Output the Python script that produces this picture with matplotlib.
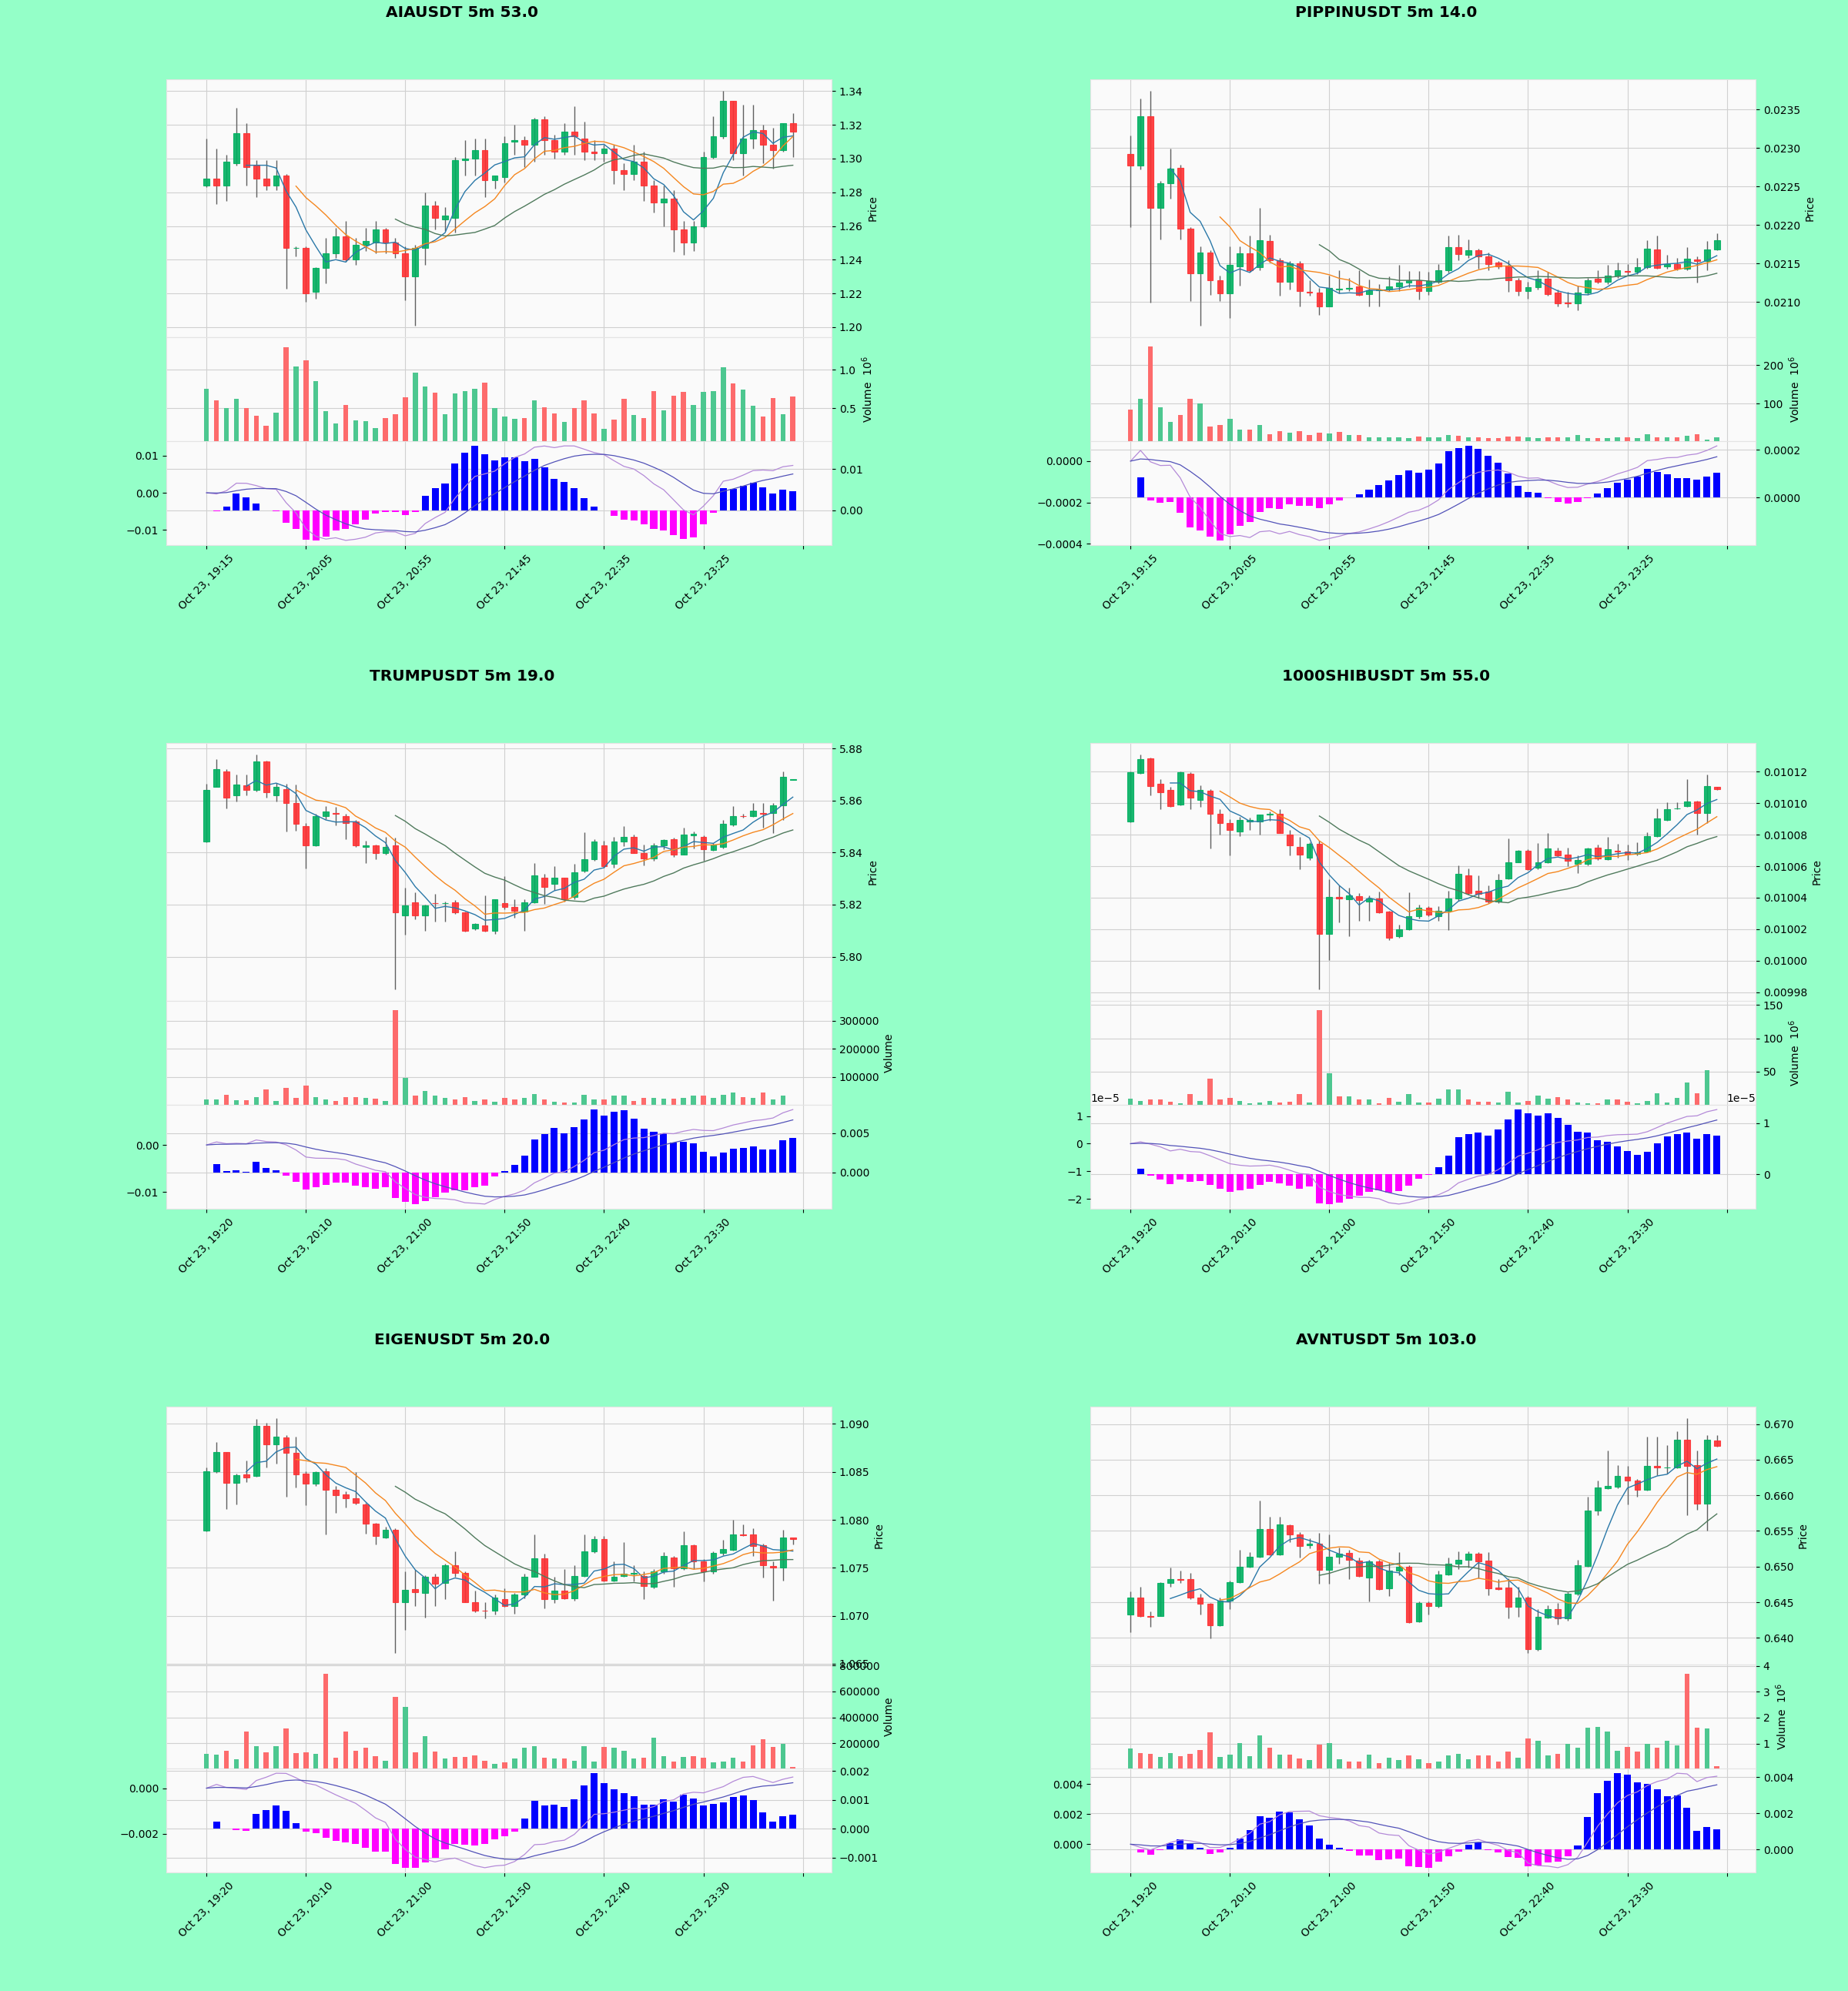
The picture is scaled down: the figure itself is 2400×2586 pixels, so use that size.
import matplotlib
matplotlib.use("Agg")
import matplotlib.pyplot as plt
from matplotlib.ticker import MaxNLocator
import numpy as np
import pandas as pd

# ---------------- data (5m candles, 60 per symbol) ----------------
aia_title = "AIAUSDT 5m 53.0"
aia_open = [1.284, 1.288, 1.284, 1.297, 1.315, 1.296, 1.288, 1.284, 1.290, 1.247,
            1.247, 1.221, 1.235, 1.244, 1.254, 1.240, 1.249, 1.250, 1.258, 1.250,
            1.244, 1.230, 1.247, 1.272, 1.264, 1.265, 1.299, 1.300, 1.305, 1.287,
            1.289, 1.310, 1.311, 1.308, 1.323, 1.311, 1.304, 1.316, 1.312, 1.304,
            1.303, 1.306, 1.293, 1.291, 1.298, 1.284, 1.274, 1.276, 1.258, 1.250,
            1.260, 1.301, 1.313, 1.334, 1.303, 1.312, 1.317, 1.308, 1.305, 1.321]
aia_high = [1.312, 1.306, 1.302, 1.330, 1.321, 1.299, 1.299, 1.299, 1.291, 1.248,
            1.248, 1.2355, 1.253, 1.259, 1.263, 1.253, 1.259, 1.263, 1.259, 1.253,
            1.248, 1.249, 1.280, 1.275, 1.271, 1.301, 1.311, 1.312, 1.312, 1.290,
            1.313, 1.320, 1.313, 1.324, 1.325, 1.314, 1.321, 1.331, 1.322, 1.311,
            1.308, 1.308, 1.297, 1.308, 1.304, 1.287, 1.284, 1.281, 1.263, 1.263,
            1.304, 1.325, 1.340, 1.334, 1.332, 1.332, 1.320, 1.318, 1.321, 1.327]
aia_low = [1.283, 1.273, 1.275, 1.296, 1.284, 1.277, 1.281, 1.281, 1.223, 1.242,
           1.215, 1.217, 1.226, 1.241, 1.239, 1.237, 1.245, 1.244, 1.244, 1.241,
           1.216, 1.201, 1.237, 1.258, 1.257, 1.256, 1.290, 1.290, 1.277, 1.282,
           1.286, 1.302, 1.295, 1.298, 1.302, 1.300, 1.302, 1.302, 1.299, 1.299,
           1.298, 1.285, 1.281, 1.287, 1.275, 1.268, 1.260, 1.2445, 1.243, 1.245,
           1.259, 1.300, 1.312, 1.299, 1.290, 1.306, 1.297, 1.294, 1.304, 1.301]
aia_close = [1.288, 1.284, 1.298, 1.315, 1.295, 1.288, 1.284, 1.290, 1.247, 1.2472,
             1.220, 1.235, 1.244, 1.254, 1.240, 1.249, 1.251, 1.258, 1.250, 1.244,
             1.230, 1.247, 1.272, 1.265, 1.266, 1.299, 1.300, 1.305, 1.287, 1.290,
             1.309, 1.311, 1.308, 1.323, 1.311, 1.304, 1.316, 1.313, 1.304, 1.303,
             1.306, 1.293, 1.291, 1.298, 1.284, 1.274, 1.276, 1.258, 1.250, 1.260,
             1.301, 1.313, 1.334, 1.303, 1.312, 1.317, 1.308, 1.305, 1.321, 1.316]
aia_volume = [757000, 607000, 507000, 623000, 507000, 397000, 273000, 440000, 1297000, 1040000,
              1123000, 850000, 457000, 297000, 547000, 340000, 330000, 240000, 367000, 423000,
              640000, 963000, 780000, 707000, 423000, 690000, 723000, 750000, 833000, 507000,
              390000, 357000, 373000, 607000, 517000, 433000, 323000, 507000, 607000, 430000,
              233000, 350000, 623000, 407000, 373000, 723000, 473000, 663000, 713000, 547000,
              713000, 723000, 1033000, 823000, 747000, 533000, 390000, 633000, 417000, 650000]

pippin_title = "PIPPINUSDT 5m 14.0"
pippin_open = [0.022927, 0.02277, 0.023417, 0.022227, 0.022543, 0.02274, 0.021953, 0.02137, 0.021643, 0.021283,
               0.02111, 0.02146, 0.021633, 0.021453, 0.021797, 0.021537, 0.02126, 0.021503, 0.02113, 0.02112,
               0.02094, 0.02116, 0.02117, 0.021203, 0.021103, 0.02115, 0.02116, 0.0212, 0.02125, 0.021283,
               0.021143, 0.02126, 0.02141, 0.021717, 0.021617, 0.021677, 0.021593, 0.02151, 0.02147, 0.021283,
               0.021143, 0.021193, 0.0213, 0.02112, 0.02099, 0.02098, 0.021117, 0.0213, 0.02126, 0.021337,
               0.0214, 0.02139, 0.02145, 0.021683, 0.02146, 0.02149, 0.02143, 0.02155, 0.02153, 0.021683]
pippin_high = [0.02316, 0.023643, 0.023743, 0.022577, 0.022993, 0.022783, 0.021977, 0.021727, 0.021677, 0.021343,
               0.021727, 0.021727, 0.02186, 0.022227, 0.021877, 0.021577, 0.021527, 0.021527, 0.021277, 0.021177,
               0.021343, 0.02141, 0.02131, 0.02141, 0.021293, 0.021227, 0.021327, 0.021477, 0.021403, 0.021403,
               0.021393, 0.021493, 0.02186, 0.021877, 0.02181, 0.021693, 0.021643, 0.021527, 0.021543, 0.02131,
               0.02126, 0.02141, 0.021393, 0.02116, 0.021127, 0.02121, 0.02131, 0.02141, 0.021477, 0.02151,
               0.021493, 0.021577, 0.021803, 0.02186, 0.02161, 0.021577, 0.02171, 0.021593, 0.021793, 0.021893]
pippin_low = [0.021977, 0.022727, 0.020993, 0.02181, 0.022343, 0.02181, 0.02101, 0.020693, 0.021093, 0.02101,
              0.020793, 0.02121, 0.021393, 0.02141, 0.02151, 0.021077, 0.02116, 0.020943, 0.021077, 0.020827,
              0.020937, 0.02111, 0.021143, 0.021077, 0.020937, 0.020937, 0.021143, 0.021143, 0.021193, 0.021027,
              0.021093, 0.021243, 0.021377, 0.021543, 0.021577, 0.021427, 0.02141, 0.021427, 0.021127, 0.021077,
              0.021043, 0.02116, 0.021077, 0.020943, 0.020927, 0.020893, 0.021093, 0.021243, 0.021227, 0.02131,
              0.021343, 0.02136, 0.021427, 0.021427, 0.021427, 0.02141, 0.02141, 0.02125, 0.02141, 0.021677]
pippin_close = [0.02277, 0.023417, 0.022227, 0.022543, 0.022733, 0.021953, 0.02137, 0.021643, 0.021283, 0.02111,
                0.021477, 0.021633, 0.02141, 0.021803, 0.021537, 0.02126, 0.021503, 0.021143, 0.02112, 0.020943,
                0.021177, 0.02117, 0.02118, 0.021093, 0.02115, 0.02116, 0.021203, 0.02125, 0.021283, 0.021143,
                0.02127, 0.02141, 0.021717, 0.02162, 0.021677, 0.021593, 0.021493, 0.02146, 0.021283, 0.021143,
                0.021193, 0.0213, 0.021103, 0.020977, 0.020983, 0.021117, 0.021283, 0.02126, 0.021343, 0.02141,
                0.02139, 0.021453, 0.021693, 0.021443, 0.021493, 0.02143, 0.02156, 0.02153, 0.021683, 0.021803]
pippin_volume = [85e6, 112e6, 248e6, 90e6, 52e6, 71e6, 113e6, 101e6, 41e6, 45e6,
                 61e6, 32e6, 33e6, 45e6, 21e6, 28e6, 25e6, 29e6, 18e6, 25e6,
                 23e6, 27e6, 18e6, 19e6, 13e6, 12e6, 12e6, 12e6, 11e6, 15e6,
                 12e6, 12e6, 19e6, 17e6, 12e6, 13e6, 10e6, 10e6, 15e6, 15e6,
                 12e6, 10e6, 12e6, 13e6, 12e6, 19e6, 10e6, 10e6, 11e6, 12e6,
                 12e6, 10e6, 20e6, 13e6, 12e6, 12e6, 17e6, 20e6, 7e6, 13e6]

trump_title = "TRUMPUSDT 5m 19.0"
trump_open = [5.8441, 5.8653, 5.8711, 5.8620, 5.8658, 5.8641, 5.8751, 5.8620, 5.8643, 5.8590,
              5.8501, 5.8428, 5.8539, 5.8551, 5.8539, 5.8519, 5.8421, 5.8428, 5.8397, 5.8428,
              5.8158, 5.8209, 5.8158, 5.8207, 5.8206, 5.8210, 5.8170, 5.8109, 5.8119, 5.8100,
              5.8207, 5.8192, 5.8173, 5.8210, 5.8302, 5.8280, 5.8302, 5.8229, 5.8329, 5.8375,
              5.8429, 5.8356, 5.8441, 5.8460, 5.8399, 5.8378, 5.8428, 5.8451, 5.8392, 5.8467,
              5.8460, 5.8409, 5.8421, 5.8508, 5.8541, 5.8539, 5.8552, 5.8551, 5.8582, 5.8680]
trump_high = [5.8665, 5.8758, 5.8719, 5.8700, 5.8701, 5.8776, 5.8753, 5.8668, 5.8665, 5.8660,
              5.8514, 5.8548, 5.8578, 5.8575, 5.8550, 5.8524, 5.8446, 5.8431, 5.8460, 5.8456,
              5.8265, 5.8246, 5.8199, 5.8241, 5.8212, 5.8217, 5.8173, 5.8129, 5.8236, 5.8221,
              5.8309, 5.8221, 5.8221, 5.8360, 5.8319, 5.8348, 5.8304, 5.8358, 5.8477, 5.8451,
              5.8446, 5.8460, 5.8502, 5.8470, 5.8431, 5.8436, 5.8451, 5.8456, 5.8495, 5.8480,
              5.8465, 5.8436, 5.8524, 5.8578, 5.8548, 5.8590, 5.8590, 5.8590, 5.8712, 5.8683]
trump_low = [5.8440, 5.8651, 5.8571, 5.8597, 5.8621, 5.8636, 5.8612, 5.8597, 5.8482, 5.8485,
             5.8340, 5.8426, 5.8529, 5.8504, 5.8451, 5.8421, 5.8360, 5.8373, 5.8392, 5.7875,
             5.8085, 5.8143, 5.8100, 5.8134, 5.8134, 5.8163, 5.8097, 5.8102, 5.8097, 5.8087,
             5.8182, 5.8148, 5.8100, 5.8207, 5.8202, 5.8256, 5.8212, 5.8221, 5.8324, 5.8368,
             5.8343, 5.8343, 5.8426, 5.8397, 5.8350, 5.8368, 5.8412, 5.8382, 5.8392, 5.8417,
             5.8368, 5.8407, 5.8417, 5.8502, 5.8534, 5.8536, 5.8495, 5.8475, 5.8524, 5.8678]
trump_close = [5.8641, 5.8721, 5.8612, 5.8660, 5.8641, 5.8751, 5.8631, 5.8651, 5.8590, 5.8509,
               5.8428, 5.8541, 5.8558, 5.8550, 5.8514, 5.8428, 5.8428, 5.8399, 5.8421, 5.8170,
               5.8197, 5.8158, 5.8197, 5.8206, 5.8207, 5.8170, 5.80995, 5.8125, 5.8099, 5.8219,
               5.8192, 5.8175, 5.8210, 5.8311, 5.8268, 5.8302, 5.8221, 5.8324, 5.8373, 5.8443,
               5.8348, 5.8441, 5.8460, 5.8399, 5.8378, 5.8428, 5.8448, 5.8392, 5.8470, 5.8472,
               5.8412, 5.8431, 5.8511, 5.8541, 5.8539, 5.8561, 5.8549, 5.8582, 5.8692, 5.8681]
trump_volume = [20300, 18400, 35000, 16600, 16600, 27600, 55300, 13800, 59900, 24900,
                69100, 27600, 18400, 13800, 27600, 27600, 25800, 23000, 13800, 336200,
                96700, 32200, 50700, 32200, 25800, 18400, 27600, 13800, 18400, 11000,
                25800, 20300, 25800, 38700, 18400, 11000, 9200, 9200, 36800, 20300,
                18400, 32200, 32200, 13800, 25800, 25800, 23000, 21200, 25800, 32200,
                32200, 25800, 36800, 44200, 27600, 25800, 44200, 20300, 32200, 1800]

shib_title = "1000SHIBUSDT 5m 55.0"
shib_open = [0.0100884, 0.0101192, 0.0101287, 0.0101123, 0.0101082, 0.0100990, 0.0101187, 0.0101023, 0.0101077, 0.0100932,
             0.0100876, 0.0100819, 0.0100886, 0.0100884, 0.0100926, 0.0100934, 0.0100803, 0.0100724, 0.0100655, 0.0100744,
             0.0100168, 0.0100405, 0.0100389, 0.0100410, 0.0100376, 0.0100394, 0.0100313, 0.0100155, 0.0100200, 0.0100281,
             0.0100335, 0.0100281, 0.0100316, 0.0100394, 0.0100542, 0.0100442, 0.0100437, 0.0100373, 0.0100523, 0.0100626,
             0.0100700, 0.0100590, 0.0100623, 0.0100700, 0.0100674, 0.0100614, 0.0100614, 0.0100719, 0.0100644, 0.0100698,
             0.0100695, 0.0100676, 0.0100695, 0.0100792, 0.0100894, 0.0100965, 0.0100981, 0.0101013, 0.0100937, 0.0101102]
shib_high = [0.0101200, 0.0101308, 0.0101290, 0.0101155, 0.0101106, 0.0101203, 0.0101195, 0.0101115, 0.0101090, 0.0100961,
             0.0100897, 0.0100913, 0.0100910, 0.0100929, 0.0100945, 0.0100961, 0.0100832, 0.0100784, 0.0100752, 0.0100760,
             0.0100518, 0.0100477, 0.0100461, 0.0100429, 0.0100413, 0.0100437, 0.0100316, 0.0100227, 0.0100432, 0.0100356,
             0.0100345, 0.0100345, 0.0100445, 0.0100606, 0.0100587, 0.0100542, 0.0100477, 0.0100550, 0.0100776, 0.0100703,
             0.0100706, 0.0100748, 0.0100808, 0.0100719, 0.0100719, 0.0100671, 0.0100719, 0.0100735, 0.0100784, 0.0100744,
             0.0100735, 0.0100752, 0.0100816, 0.0100969, 0.0101006, 0.0101006, 0.0101155, 0.0101018, 0.0101184, 0.0101104]
shib_low = [0.0100881, 0.0101187, 0.0101050, 0.0100961, 0.0100977, 0.0100985, 0.0100961, 0.0100977, 0.0100711, 0.0100800,
            0.0100671, 0.0100792, 0.0100829, 0.0100800, 0.0100889, 0.0100808, 0.0100671, 0.0100582, 0.0100639, 0.0099819,
            0.0100002, 0.0100244, 0.0100155, 0.0100252, 0.0100252, 0.0100300, 0.0100131, 0.0100147, 0.0100195, 0.0100268,
            0.0100284, 0.0100252, 0.0100195, 0.0100381, 0.0100421, 0.0100397, 0.0100365, 0.0100365, 0.0100518, 0.0100623,
            0.0100574, 0.0100582, 0.0100619, 0.0100663, 0.0100598, 0.0100558, 0.0100606, 0.0100639, 0.0100639, 0.0100655,
            0.0100639, 0.0100671, 0.0100687, 0.0100784, 0.0100889, 0.0100961, 0.0100977, 0.0100800, 0.0100873, 0.0101085]
shib_close = [0.0101198, 0.0101281, 0.0101111, 0.0101071, 0.0100981, 0.0101198, 0.0101034, 0.0101082, 0.0100932, 0.0100876,
              0.0100829, 0.0100892, 0.0100895, 0.0100926, 0.0100934, 0.0100811, 0.0100732, 0.0100674, 0.0100744, 0.0100168,
              0.0100405, 0.0100397, 0.0100413, 0.0100384, 0.0100397, 0.0100308, 0.0100147, 0.0100200, 0.0100281, 0.0100335,
              0.0100292, 0.0100319, 0.0100394, 0.0100550, 0.0100429, 0.0100426, 0.0100373, 0.0100513, 0.0100626, 0.0100700,
              0.0100582, 0.0100626, 0.0100711, 0.0100671, 0.0100634, 0.0100639, 0.0100711, 0.0100647, 0.0100706, 0.0100692,
              0.0100679, 0.0100690, 0.0100792, 0.0100905, 0.0100961, 0.0100969, 0.0101013, 0.0100937, 0.0101110, 0.0101087]
shib_volume = [10.0e6, 6.0e6, 8.8e6, 8.8e6, 4.8e6, 2.0e6, 16.8e6, 6.0e6, 40.0e6, 8.8e6,
               11.2e6, 6.0e6, 2.0e6, 3.2e6, 6.0e6, 3.2e6, 4.8e6, 16.8e6, 4.0e6, 142.0e6,
               47.2e6, 12.8e6, 12.8e6, 8.0e6, 8.0e6, 2.0e6, 10.8e6, 4.8e6, 16.8e6, 3.2e6,
               3.2e6, 10.0e6, 23.2e6, 23.2e6, 8.0e6, 4.8e6, 4.8e6, 3.2e6, 20.0e6, 4.0e6,
               6.0e6, 14.0e6, 10.0e6, 12.0e6, 8.8e6, 3.2e6, 2.0e6, 2.0e6, 8.0e6, 8.0e6,
               4.8e6, 2.0e6, 6.0e6, 18.0e6, 4.0e6, 11.2e6, 34.0e6, 18.0e6, 52.8e6, 0.8e6]

eigen_title = "EIGENUSDT 5m 20.0"
eigen_open = [1.078866, 1.08504, 1.087084, 1.083823, 1.08475, 1.08457, 1.08979, 1.08783, 1.08862, 1.08695,
              1.08483, 1.08377, 1.08504, 1.08316, 1.08263, 1.08226, 1.08165, 1.07961, 1.07812, 1.07895,
              1.07144, 1.07282, 1.07238, 1.07409, 1.07343, 1.07529, 1.07449, 1.07144, 1.07057, 1.0705,
              1.07171, 1.07105, 1.07224, 1.07409, 1.076, 1.07171, 1.07264, 1.07184, 1.07415, 1.07669,
              1.07799, 1.0737, 1.07417, 1.0744, 1.07415, 1.07304, 1.07462, 1.07608, 1.07494, 1.07733,
              1.07568, 1.07462, 1.07653, 1.0769, 1.07852, 1.07847, 1.07733, 1.07523, 1.07502, 1.07812]
eigen_high = [1.08549, 1.08809, 1.08708, 1.0848, 1.08616, 1.09053, 1.09013, 1.09058, 1.08881, 1.08867,
              1.0851, 1.0851, 1.08536, 1.0835, 1.08297, 1.08496, 1.08178, 1.07971, 1.07926, 1.07913,
              1.07462, 1.07476, 1.07423, 1.07436, 1.07542, 1.07675, 1.07462, 1.07264, 1.07144, 1.07224,
              1.0729, 1.07237, 1.07436, 1.07847, 1.07648, 1.07409, 1.07489, 1.07529, 1.07847, 1.07834,
              1.07834, 1.07568, 1.07767, 1.07529, 1.07462, 1.07489, 1.07661, 1.07621, 1.07881, 1.07741,
              1.07595, 1.07675, 1.07794, 1.07998, 1.07953, 1.07913, 1.0775, 1.07568, 1.079, 1.07807]
eigen_low = [1.07881, 1.08491, 1.08112, 1.08165, 1.0839, 1.08449, 1.08549, 1.08589, 1.08244, 1.08337,
             1.08152, 1.0835, 1.07847, 1.08072, 1.08125, 1.08165, 1.0786, 1.07741, 1.07807, 1.06614,
             1.06853, 1.07105, 1.06985, 1.07105, 1.07171, 1.07409, 1.07144, 1.07038, 1.06972, 1.07012,
             1.07097, 1.07025, 1.07184, 1.07409, 1.07078, 1.07131, 1.07171, 1.07158, 1.07409, 1.07655,
             1.07356, 1.07356, 1.07409, 1.07356, 1.07171, 1.0729, 1.07436, 1.07303, 1.07476, 1.07489,
             1.07356, 1.07436, 1.07635, 1.0768, 1.07834, 1.07621, 1.07396, 1.07158, 1.0737, 1.07741]
eigen_close = [1.085043, 1.087084, 1.083823, 1.084698, 1.08443, 1.08979, 1.08783, 1.08867, 1.08695, 1.0847,
               1.08377, 1.08496, 1.08316, 1.08258, 1.08226, 1.08178, 1.07961, 1.07834, 1.07895, 1.07144,
               1.07272, 1.0725, 1.07409, 1.07335, 1.07529, 1.07449, 1.07144, 1.07052, 1.0705, 1.07189,
               1.07105, 1.07224, 1.07409, 1.076, 1.07171, 1.07264, 1.07184, 1.07415, 1.07669, 1.07799,
               1.0737, 1.07409, 1.07441, 1.07444, 1.07309, 1.07462, 1.07621, 1.07494, 1.07735, 1.07568,
               1.07462, 1.07653, 1.07693, 1.07847, 1.07844, 1.07728, 1.07529, 1.07502, 1.07812, 1.07802]
eigen_volume = [120800, 110900, 140600, 77200, 289100, 180200, 130700, 180200, 314800, 124700,
                130700, 116800, 734600, 91100, 289100, 144500, 164300, 101000, 65300, 560300,
                481100, 130700, 255400, 136600, 81200, 95000, 95000, 106900, 65300, 41600,
                51500, 81200, 164300, 180200, 91100, 81200, 81200, 65300, 180200, 61400,
                170300, 164300, 140600, 85100, 91100, 243500, 101000, 61400, 97000, 101000,
                91100, 51500, 61400, 91100, 57400, 184100, 233600, 170300, 196000, 17800]

avnt_title = "AVNTUSDT 5m 103.0"
avnt_open = [0.643321, 0.64567, 0.6431, 0.64303, 0.64766, 0.64827, 0.6482, 0.64567, 0.64477, 0.6418,
             0.6452, 0.64784, 0.64994, 0.65135, 0.65532, 0.65171, 0.65579, 0.65446, 0.6530, 0.65326,
             0.64954, 0.65138, 0.65189, 0.65084, 0.64849, 0.65073, 0.64693, 0.64939, 0.65001, 0.64228,
             0.64488, 0.64448, 0.64892, 0.65037, 0.65091, 0.65182, 0.65084, 0.64701, 0.64701, 0.64434,
             0.64567, 0.63837, 0.64289, 0.64404, 0.64278, 0.64614, 0.65012, 0.65789, 0.66104, 0.66122,
             0.66266, 0.66205, 0.66075, 0.66411, 0.66393, 0.66393, 0.66783, 0.66422, 0.65879, 0.66772]
avnt_high = [0.64657, 0.64712, 0.64368, 0.64784, 0.64983, 0.64947, 0.64911, 0.64621, 0.64495, 0.64567,
             0.64802, 0.65236, 0.652, 0.6593, 0.65699, 0.65699, 0.65597, 0.65489, 0.65399, 0.65471,
             0.65453, 0.65272, 0.65236, 0.65127, 0.65091, 0.65091, 0.65055, 0.65207, 0.65019, 0.64513,
             0.64513, 0.64947, 0.65127, 0.65218, 0.65218, 0.652, 0.65207, 0.6482, 0.64838, 0.64712,
             0.64585, 0.64404, 0.64459, 0.64495, 0.64639, 0.65091, 0.65977, 0.66212, 0.66628, 0.66422,
             0.66411, 0.6623, 0.66826, 0.66826, 0.667, 0.669, 0.6708, 0.66628, 0.66845, 0.66845]
avnt_low = [0.64079, 0.6430, 0.64151, 0.64303, 0.64712, 0.64766, 0.64549, 0.64332, 0.63989, 0.6417,
            0.64404, 0.64766, 0.64983, 0.65127, 0.65164, 0.65156, 0.65344, 0.65127, 0.65254, 0.64759,
            0.64759, 0.65037, 0.6482, 0.64856, 0.64513, 0.64676, 0.64585, 0.64874, 0.64206, 0.64224,
            0.64332, 0.64422, 0.64874, 0.64965, 0.64983, 0.64838, 0.64603, 0.64676, 0.64278, 0.6430,
            0.6379, 0.63819, 0.64278, 0.64188, 0.64242, 0.64603, 0.65001, 0.65724, 0.66085, 0.66103,
            0.65868, 0.65977, 0.66067, 0.66284, 0.66302, 0.66375, 0.65724, 0.65796, 0.65507, 0.66682]
avnt_close = [0.645671, 0.643032, 0.64296, 0.64766, 0.64827, 0.64809, 0.64567, 0.64477, 0.6418, 0.6452,
              0.64784, 0.65001, 0.65135, 0.65532, 0.65171, 0.65597, 0.65453, 0.6529, 0.6532, 0.64954,
              0.65138, 0.65182, 0.65091, 0.64867, 0.65073, 0.64686, 0.64939, 0.65001, 0.64217, 0.64495,
              0.64448, 0.64892, 0.65037, 0.65091, 0.65182, 0.65073, 0.64694, 0.64686, 0.64441, 0.64567,
              0.63844, 0.64296, 0.64404, 0.64278, 0.64614, 0.65019, 0.65789, 0.66111, 0.66129, 0.66277,
              0.66205, 0.66075, 0.66411, 0.66393, 0.66394, 0.66783, 0.66411, 0.65879, 0.66783, 0.66689]
avnt_volume = [826000, 629000, 610000, 492000, 629000, 511000, 610000, 757000, 1445000, 492000,
               590000, 1023000, 511000, 1318000, 855000, 590000, 590000, 413000, 364000, 954000,
               1023000, 393000, 295000, 295000, 580000, 236000, 462000, 364000, 560000, 383000,
               236000, 315000, 560000, 610000, 383000, 560000, 531000, 315000, 708000, 462000,
               1200000, 1121000, 560000, 610000, 1003000, 855000, 1613000, 1642000, 1475000, 728000,
               885000, 708000, 1003000, 855000, 1121000, 934000, 3677000, 1613000, 1573000, 138000]

ticks_1915 = ["Oct 23, 19:15", "Oct 23, 20:05", "Oct 23, 20:55",
              "Oct 23, 21:45", "Oct 23, 22:35", "Oct 23, 23:25"]
ticks_1920 = ["Oct 23, 19:20", "Oct 23, 20:10", "Oct 23, 21:00",
              "Oct 23, 21:50", "Oct 23, 22:40", "Oct 23, 23:30"]

# volume shown scaled by 10**exp (as in the original volume axis label)
panels = [
    (aia_title, aia_open, aia_high, aia_low, aia_close, aia_volume, 6, ticks_1915),
    (pippin_title, pippin_open, pippin_high, pippin_low, pippin_close, pippin_volume, 6, ticks_1915),
    (trump_title, trump_open, trump_high, trump_low, trump_close, trump_volume, 0, ticks_1920),
    (shib_title, shib_open, shib_high, shib_low, shib_close, shib_volume, 6, ticks_1920),
    (eigen_title, eigen_open, eigen_high, eigen_low, eigen_close, eigen_volume, 0, ticks_1920),
    (avnt_title, avnt_open, avnt_high, avnt_low, avnt_close, avnt_volume, 6, ticks_1920),
]

# ---------------- style ----------------
BG = '#94ffc8'
FACE = '#fafafa'
GRID = '#d0d0d0'
UP, DOWN = '#00b060', '#fe3032'
VUP, VDOWN = '#4dc790', '#fd6b6c'
WICK = '#606060'
MAV_COLORS = ['#2a78a8', '#f5871f', '#4f7a5c']
TICK_FS = 10
NICE = [1, 2, 2.5, 5, 10]

W_PX, H_PX = 2400, 2586
fig = plt.figure(figsize=(24, 25.86), dpi=100, facecolor=BG)


def style_ax(ax):
    ax.set_facecolor(FACE)
    for sp in ax.spines.values():
        sp.set_color('#e4e4e4')
    ax.grid(True, color=GRID, linewidth=0.8)
    ax.set_axisbelow(True)
    ax.tick_params(axis='y', labelsize=TICK_FS)


def draw_panel(idx, title, o, h, l, c, v, vexp, xlabels):
    col, row = idx % 2, idx // 2
    o, h, l, c, v = map(np.asarray, (o, h, l, c, v))
    x = np.arange(len(c))

    left = (col * 1200 + 216) / W_PX
    width = 864 / W_PX
    top = row * 862

    def rect(y0, y1):
        return [left, 1 - (top + y1) / H_PX, width, (y1 - y0) / H_PX]

    ax_p = fig.add_axes(rect(103, 438))
    ax_v = fig.add_axes(rect(438, 573), sharex=ax_p)
    ax_m = fig.add_axes(rect(573, 708), sharex=ax_p)
    for ax in (ax_p, ax_v, ax_m):
        style_ax(ax)

    # candles
    up = c >= o
    ax_p.vlines(x, l, h, color=WICK, linewidth=1.0, zorder=2)
    body_col = np.where(up, UP, DOWN)
    ax_p.bar(x, np.abs(c - o), bottom=np.minimum(o, c), width=0.6,
             color=body_col, edgecolor=body_col, linewidth=0.8, alpha=0.9, zorder=3)
    closes = pd.Series(c)
    for n, mc in zip((5, 10, 20), MAV_COLORS):
        ax_p.plot(x, closes.rolling(n).mean(), color=mc, linewidth=1.0, zorder=4)
    ax_p.yaxis.tick_right()
    ax_p.yaxis.set_label_position('right')
    ax_p.set_ylabel('Price', fontsize=10)
    ax_p.ticklabel_format(axis='y', useOffset=False)
    ax_p.tick_params(axis='x', labelbottom=False)

    # volume, coloured against the previous close
    prev = np.concatenate([[o[0]], c[:-1]])
    vcol = np.where(c >= prev, VUP, VDOWN)
    vs = v / 10 ** vexp
    ax_v.bar(x, vs, width=0.5, color=vcol, zorder=3)
    ax_v.set_ylim(0.3 * vs.min(), 1.1 * vs.max())
    ax_v.yaxis.tick_right()
    ax_v.yaxis.set_label_position('right')
    ax_v.yaxis.set_major_locator(MaxNLocator(nbins=5, steps=NICE))
    ax_v.set_ylabel('Volume  $10^{%d}$' % vexp if vexp else 'Volume', fontsize=10)
    ax_v.tick_params(axis='x', labelbottom=False)

    # MACD: bars on the right scale (rising side doubled, as in the source chart),
    # dif / dea lines on the left scale
    ema12 = closes.ewm(span=12, adjust=False).mean()
    ema26 = closes.ewm(span=26, adjust=False).mean()
    macd = ema12 - ema26
    signal = macd.ewm(span=9, adjust=False).mean()
    diff = (macd - signal).values
    ax_m.bar(x, np.where(diff > 0, 2 * diff, np.nan), width=0.7, color='blue', zorder=3)
    ax_m.bar(x, np.where(diff < 0, diff, np.nan), width=0.7, color='magenta', zorder=3)
    ax_l = ax_m.twinx()
    ax_m.yaxis.tick_right()
    ax_l.yaxis.tick_left()
    ax_m.yaxis.set_major_locator(MaxNLocator(nbins=4, steps=NICE))
    ax_l.yaxis.set_major_locator(MaxNLocator(nbins=4, steps=NICE))
    ax_l.plot(x, macd, color='#b48ad8', linewidth=0.9)
    ax_l.plot(x, signal, color='#5252b8', linewidth=0.9)
    ax_l.tick_params(axis='y', labelsize=TICK_FS)
    for sp in ax_l.spines.values():
        sp.set_visible(False)

    ax_m.set_xticks(np.arange(0, 61, 10))
    ax_m.set_xticklabels(list(xlabels) + [''], rotation=45, ha='center', fontsize=10)
    ax_m.set_xlim(-4.05, 62.9)

    fig.text(0.25 + 0.5 * col, 1 - (top + 16.5) / H_PX, title, ha='center', va='center',
             fontsize=14.5, fontweight='bold')


for i, p in enumerate(panels):
    draw_panel(i, *p)

fig.savefig('out.png', dpi=100, facecolor=BG)
